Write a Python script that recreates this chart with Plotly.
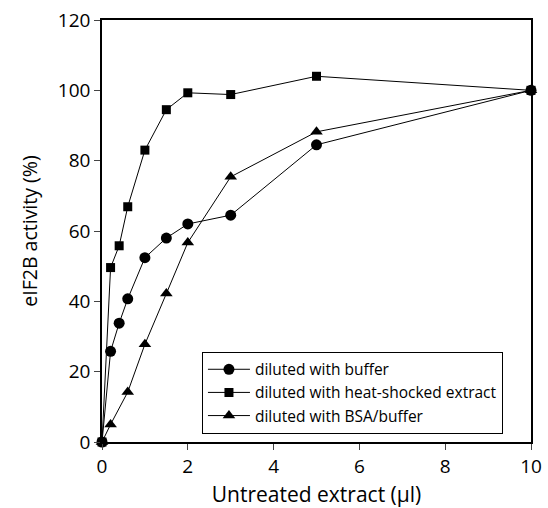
import plotly.graph_objects as go

x_buffer = [0, 0.2, 0.4, 0.6, 1.0, 1.5, 2.0, 3.0, 5.0, 10.0]
y_buffer = [0, 25.8, 33.8, 40.7, 52.4, 58.0, 62.0, 64.5, 84.5, 100]

x_heat = [0, 0.2, 0.4, 0.6, 1.0, 1.5, 2.0, 3.0, 5.0, 10.0]
y_heat = [0, 49.6, 55.8, 66.9, 83.0, 94.5, 99.3, 98.8, 104.0, 100]

x_bsa = [0, 0.2, 0.6, 1.0, 1.5, 2.0, 3.0, 5.0, 10.0]
y_bsa = [0, 5.0, 14.2, 27.8, 42.2, 56.7, 75.4, 88.2, 100]

names = ["diluted with buffer", "diluted with heat-shocked extract", "diluted with BSA/buffer"]
x_ticks = [0, 2, 4, 6, 8, 10]
y_ticks = [0, 20, 40, 60, 80, 100, 120]

FONT = "Open Sans"

fig = go.Figure()
for xs, ys, nm, sym, sz in [
    (x_buffer, y_buffer, names[0], "circle", 11),
    (x_heat, y_heat, names[1], "square", 9),
    (x_bsa, y_bsa, names[2], "triangle-up", 11),
]:
    fig.add_trace(go.Scatter(
        x=xs, y=ys, name=nm, mode="lines+markers",
        line=dict(color="black", width=1),
        marker=dict(symbol=sym, size=sz, color="black"),
        cliponaxis=False,
    ))

fig.update_layout(
    width=548, height=508,
    margin=dict(l=102, r=17, t=20, b=66),
    plot_bgcolor="white", paper_bgcolor="white",
    font=dict(family=FONT, color="black", size=19),
    showlegend=True,
    legend=dict(
        x=0.233, y=0.214, xanchor="left", yanchor="top",
        bordercolor="black", borderwidth=1, bgcolor="white",
        font=dict(size=15.5, family=FONT), tracegroupgap=0,
        itemwidth=42,
    ),
)
fig.update_xaxes(
    range=[0, 10], tickvals=x_ticks, ticks="outside", ticklen=6, tickwidth=1,
    showline=True, linecolor="black", linewidth=1.5, mirror=True,
    showgrid=False, zeroline=False, automargin=False,
    title=dict(text="Untreated extract (µl)", font=dict(size=21)),
    tickfont=dict(size=19),
)
fig.update_yaxes(
    range=[0, 120], tickvals=y_ticks, ticks="outside", ticklen=6, tickwidth=1,
    showline=True, linecolor="black", linewidth=1.5, mirror=True,
    showgrid=False, zeroline=False, automargin=False,
    title=dict(text="eIF2B activity (%)", font=dict(size=19.5)),
    tickfont=dict(size=19),
)

fig.write_html("out.html")
